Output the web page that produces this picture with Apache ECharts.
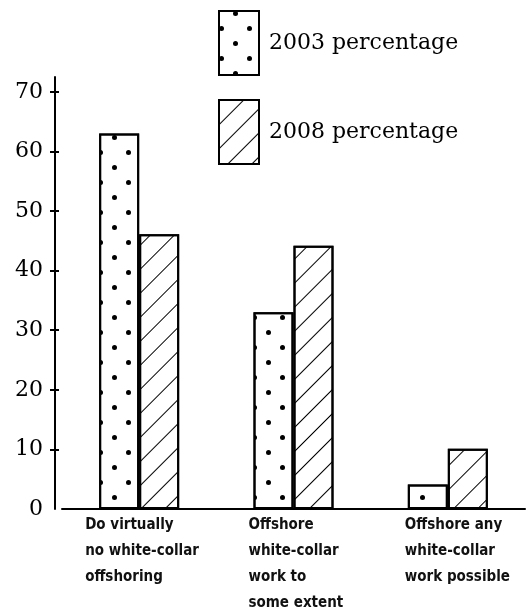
<!DOCTYPE html>
<html>
<head>
<meta charset="utf-8">
<script src="https://cdn.jsdelivr.net/npm/echarts@6/dist/echarts.min.js"></script>
<style>html,body{margin:0;padding:0;background:#fff;}#c{width:532px;height:611px;}</style>
</head>
<body>
<div id="c"></div>
<script>
const categories = ['Do virtually\nno white-collar\noffshoring', 'Offshore\nwhite-collar\nwork to\nsome extent', 'Offshore any\nwhite-collar\nwork possible'];
const seriesNames = ['2003 percentage', '2008 percentage'];
const values2003 = [63.0, 33.0, 4.1];
const values2008 = [46.1, 44.2, 10.1];
const yTicks = [0, 10, 20, 30, 40, 50, 60, 70];

const chart = echarts.init(document.getElementById('c'));
const labelWidths = [108, 90, 86];
const rich = {};
labelWidths.forEach((w, i) => {
  rich['g' + i] = { width: w, align: 'left', fontFamily: "'DejaVu Sans Condensed','Liberation Sans Narrow',sans-serif", fontWeight: 'bold', fontSize: 15, lineHeight: 26, color: '#111' };
});
const dotDecal = { symbol: 'circle', symbolSize: 1, color: '#000', backgroundColor: 'rgba(0,0,0,0)', dashArrayX: [[5, 23], [0, 14, 5, 9]], dashArrayY: [5, 9.5], rotation: 0 };
const hatchDecal = { symbol: 'rect', symbolSize: 1, color: '#000', backgroundColor: 'rgba(0,0,0,0)', dashArrayX: [1, 0], dashArrayY: [1, 16], rotation: -Math.PI / 4 };
const axisStyle = { show: true, lineStyle: { color: '#000', width: 2 } };
chart.setOption({
  animation: false,
  backgroundColor: '#fff',
  grid: { left: 62, right: 7, top: 77, bottom: 102, containLabel: false },
  legend: {
    orient: 'vertical', left: 218, top: 10, padding: 0, itemWidth: 40, itemHeight: 64, itemGap: 23,
    icon: 'rect',
    textStyle: { fontFamily: "'DejaVu Serif',serif", fontSize: 22, color: '#000', padding: [0, 0, 0, 5] },
    data: seriesNames
  },
  xAxis: {
    type: 'category', data: categories,
    axisLine: axisStyle, axisTick: { show: false },
    axisLabel: {
      margin: 3, interval: 0,
      formatter: (v, i) => v.split('\n').map(l => '{g' + i + '|' + l + '}').join('\n'),
      rich: rich
    }
  },
  yAxis: [{
    type: 'value', min: 0, max: 72.5, offset: 7,
    axisLine: axisStyle, splitLine: { show: false },
    axisTick: { show: true, length: 5, lineStyle: { color: '#000', width: 2 }, customValues: yTicks.slice(1) },
    axisLabel: { customValues: yTicks, margin: 12, fontFamily: "'DejaVu Serif',serif", fontSize: 22, color: '#000' }
  }, {
    type: 'value', min: 0, max: 72.5, offset: 7, position: 'left',
    axisLine: { show: false }, splitLine: { show: false }, axisLabel: { show: false },
    axisTick: { show: true, inside: true, length: 4, lineStyle: { color: '#000', width: 2 }, customValues: yTicks.slice(1) }
  }],
  series: [{
    name: seriesNames[0], type: 'bar', data: values2003, barWidth: 40, barGap: '0%',
    itemStyle: { color: '#fff', borderColor: '#000', borderWidth: 2, decal: dotDecal }
  }, {
    name: seriesNames[1], type: 'bar', data: values2008, barWidth: 40, barGap: '0%',
    itemStyle: { color: '#fff', borderColor: '#000', borderWidth: 2, decal: hatchDecal }
  }]
});
</script>
</body>
</html>
